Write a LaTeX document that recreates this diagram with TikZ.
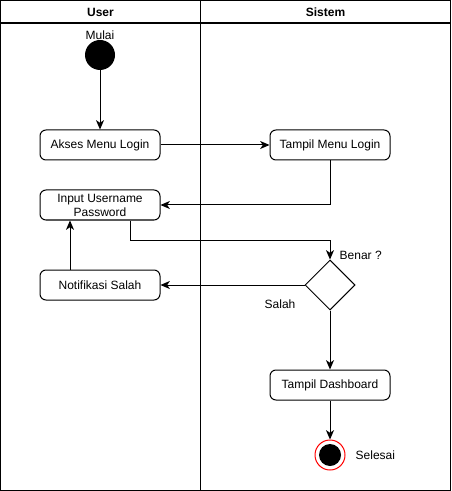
\documentclass[tikz,border=0pt]{standalone}
\usepackage{fontspec}
\setmainfont{Liberation Sans}
\usetikzlibrary{arrows.meta,shapes.geometric}
\begin{document}
\begin{tikzpicture}[x=0.75pt,y=-0.75pt,
  every node/.style={font=\fontsize{9}{10.5}\selectfont},
  act/.style={draw,rounded corners=4.5pt,minimum width=90pt,minimum height=22.5pt,inner sep=1pt,align=center,line width=0.75pt},
  flow/.style={-{Stealth[length=7pt,width=6pt,inset=2pt]},line width=0.75pt},
  lane/.style={line width=0.9pt}]
\useasboundingbox (0,0) rectangle (451,491);
% swimlanes
\draw[lane] (0.7,0.7) rectangle (450.3,490.3);
\draw[lane] (0.7,23) -- (450.3,23);
\draw[lane] (200.5,0.7) -- (200.5,490.3);
\node[font=\fontsize{9}{10.5}\selectfont\bfseries] (hu) at (100.5,12) {User};
\node[font=\fontsize{9}{10.5}\selectfont\bfseries] (hs) at (325.5,12) {Sistem};
% nodes
\node[circle,fill=black,minimum size=22.5pt,inner sep=0pt] (start) at (100,55) {};
\node (mulai) at (100,35) {Mulai};
\node[act] (akses) at (100,145) {Akses Menu Login};
\node[act] (tml) at (330,145) {Tampil Menu Login};
\node[act] (input) at (100,205) {Input Username\\Password};
\node[draw,diamond,minimum width=37.5pt,minimum height=37.5pt,inner sep=0pt,line width=0.75pt,aspect=1] (dec) at (330,285) {};
\node[anchor=west] (benar) at (335,255) {Benar ?};
\node[act] (notif) at (100,285) {Notifikasi Salah};
\node (salah) at (280,304) {Salah};
\node[act] (dash) at (330,385) {Tampil Dashboard};
\node[circle,draw=red,line width=0.75pt,fill=white,minimum size=22.5pt,inner sep=0pt] (end) at (330,455) {};
\node[circle,fill=black,minimum size=16.5pt,inner sep=0pt] (endin) at (end) {};
\node[anchor=west] (selesai) at (351,455) {Selesai};
% connectors
\draw[flow] (start) -- (akses);
\draw[flow] (akses) -- (tml);
\draw[flow] (tml.south) |- (input.east);
\coordinate (c1) at ([xshift=22.5pt]input.south);
\coordinate (c2) at (330,240);
\draw[flow] (c1) -- (c1 |- c2) -- (c2) -- (dec.north);
\draw[flow] (dec.west) -- (notif.east);
\coordinate (c3) at ([xshift=-22.5pt]notif.north);
\draw[flow] (c3) -- (c3 |- input.south);
\draw[flow] (dec.south) -- (dash.north);
\draw[flow] (dash.south) -- (end.north);
\end{tikzpicture}
\end{document}
